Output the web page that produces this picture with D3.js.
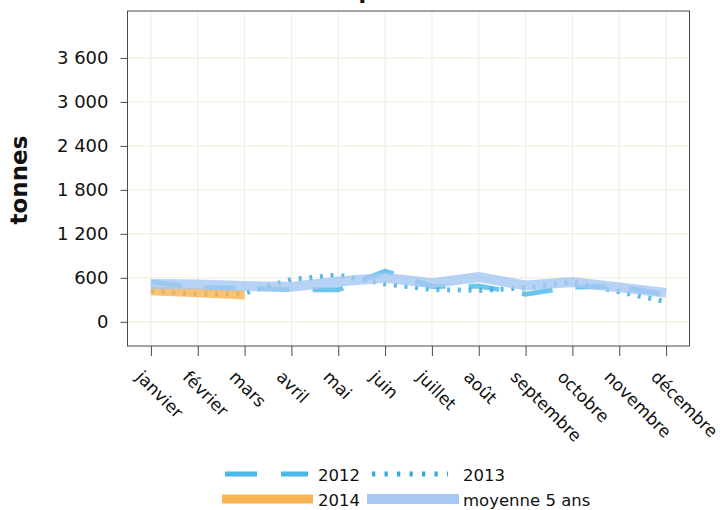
<!DOCTYPE html>
<html><head><meta charset="utf-8">
<script src="https://cdn.jsdelivr.net/npm/d3@7"></script>
<style>body{margin:0;background:#fff}svg{display:block}text{font-family:"DejaVu Sans",Verdana,sans-serif}</style>
</head><body>
<svg id="c" width="723" height="510"></svg>
<script>
const months = ["janvier","février","mars","avril","mai","juin","juillet","août","septembre","octobre","novembre","décembre"];
const s2012 = [545, 465, 460, 441, 436, 690, 482, 487, 378, 475, 482, 365];
const s2013 = [419, 378, 392, 577, 637, 518, 441, 427, 464, 546, 409, 273];
const s2014 = [425, 395, 365];
const smoy  = [515, 509, 487, 477, 550, 600, 528, 610, 497, 542, 470, 395];
const yTicks = [0, 600, 1200, 1800, 2400, 3000, 3600];
const legendLabels = ["2012", "2013", "2014", "moyenne 5 ans"];

const svg = d3.select("#c");
const L = 127.5, R = 689.5, T = 11, B = 346;
const x = d3.scalePoint().domain(months).range([L, R]).padding(0.5);
const y = d3.scaleLinear().domain([-330, 4240]).range([B, T]);
const fmt = v => d3.format(",")(v).replace(/,/g, "\u00a0");

// grid
svg.append("g").selectAll("line.h").data(yTicks).join("line")
  .attr("x1", L).attr("x2", R).attr("y1", d => y(d)).attr("y2", d => y(d))
  .attr("stroke", "#efedda").attr("stroke-width", 1);
svg.append("g").selectAll("line.v").data(months).join("line")
  .attr("y1", T).attr("y2", B).attr("x1", d => x(d)).attr("x2", d => x(d))
  .attr("stroke", "#efedda").attr("stroke-width", 1);

// series
const line = d3.line().x((d, i) => x(months[i])).y(d => y(d));
const series = [
  {data: s2012, color: "#4ab8e8", w: 5, dash: "31,23"},
  {data: s2013, color: "#3aa9dc", w: 5, dash: "3,7.7"},
  {data: s2014, color: "#f9b454", w: 9, dash: null},
  {data: smoy,  color: "#a6c8f2", w: 10, dash: null}
];
series.forEach(s => {
  svg.append("path").attr("d", line(s.data)).attr("fill", "none")
    .attr("stroke", s.color).attr("stroke-width", s.w)
    .attr("stroke-dasharray", s.dash).attr("stroke-opacity", 0.82);
});

// frame
svg.append("rect").attr("x", L).attr("y", T).attr("width", R - L).attr("height", B - T)
  .attr("fill", "none").attr("stroke", "#4d4a42").attr("stroke-width", 1);

// y axis
const ya = svg.append("g").attr("transform", `translate(${L},0)`)
  .call(d3.axisLeft(y).tickValues(yTicks).tickSize(7).tickPadding(12).tickFormat(fmt));
ya.select(".domain").remove();
ya.selectAll("line").attr("stroke", "#4d4a42");
ya.selectAll("text").attr("font-size", 18).attr("fill", "#111").attr("font-family", "DejaVu Sans");

// x axis
const xa = svg.append("g").attr("transform", `translate(0,${B})`)
  .call(d3.axisBottom(x).tickSize(10).tickFormat(""));
xa.select(".domain").remove();
xa.selectAll("line").attr("stroke", "#4d4a42");
svg.append("g").selectAll("text").data(months).join("text")
  .attr("transform", d => `translate(${x(d) - 16},${378}) rotate(45)`)
  .attr("font-size", 17).attr("fill", "#111").text(d => d);

// axis title
svg.append("text").attr("transform", "translate(27,180) rotate(-90)")
  .attr("text-anchor", "middle").attr("font-size", 23).attr("font-weight", "bold")
  .attr("fill", "#111").text("tonnes");

// title (cut off at top)
svg.append("text").attr("x", (L + R) / 2).attr("y", -1).attr("text-anchor", "middle")
  .attr("font-size", 22).attr("font-weight", "bold").attr("fill", "#111").text("Exportations");

// legend
const leg = [
  {i: 0, x1: 225, x2: 308, y: 474, tx: 318, ty: 481},
  {i: 1, x1: 372, x2: 448, y: 474, tx: 463, ty: 481},
  {i: 2, x1: 222, x2: 313, y: 499, tx: 318, ty: 506},
  {i: 3, x1: 367, x2: 459, y: 499, tx: 463, ty: 506}
];
leg.forEach(l => {
  const s = series[l.i];
  svg.append("line").attr("x1", l.x1).attr("x2", l.x2).attr("y1", l.y).attr("y2", l.y)
    .attr("stroke", s.color).attr("stroke-width", s.w)
    .attr("stroke-dasharray", l.i === 1 ? "3.3,9.2" : (l.i === 0 ? "32,24" : null));
  svg.append("text").attr("x", l.tx).attr("y", l.ty).attr("font-size", 16.5)
    .attr("fill", "#111").text(legendLabels[l.i]);
});
</script>
</body></html>
